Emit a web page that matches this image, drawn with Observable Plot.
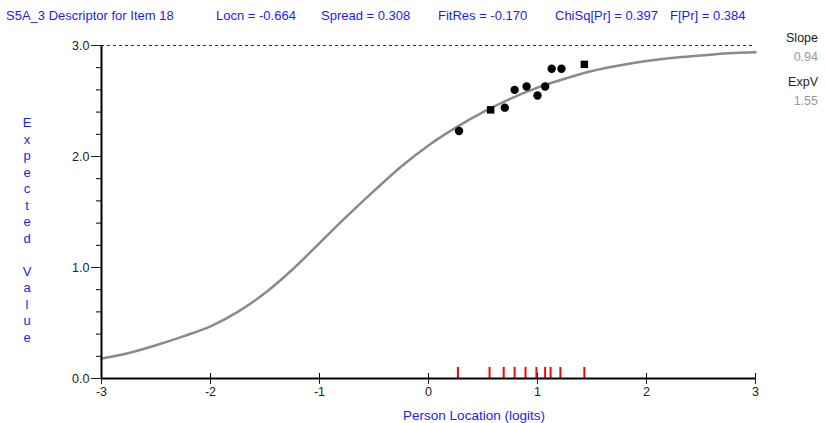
<!DOCTYPE html>
<html><head><meta charset="utf-8">
<script src="https://cdn.jsdelivr.net/npm/d3@7"></script>
<script src="https://cdn.jsdelivr.net/npm/@observablehq/plot@0.6"></script>
<style>
body{margin:0;background:#fff;}
#wrap{position:relative;width:825px;height:423px;font-family:"Liberation Sans",Arial,sans-serif;}
.t{position:absolute;white-space:nowrap;color:#1a1aff;font-size:13px;line-height:14px;}
.r{position:absolute;white-space:nowrap;font-size:12.5px;line-height:14px;text-align:right;width:60px;}
.yc{position:absolute;width:14px;text-align:center;color:#1a1aff;font-size:13px;line-height:14px;}
</style></head>
<body><div id="wrap"></div>
<script>
// Title pieces
const titleParts = ["S5A_3  Descriptor for Item 18","Locn = -0.664","Spread = 0.308","FitRes = -0.170","ChiSq[Pr] = 0.397","F[Pr] = 0.384"];
const sideLabels = ["Slope","0.94","ExpV","1.55"];
const yTitle = "Expected Value";
const xTitle = "Person Location (logits)";

// Expected value curve
const curveX = [-3,-2.75,-2.5,-2.25,-2,-1.75,-1.5,-1.25,-1,-0.75,-0.5,-0.25,0,0.25,0.5,0.75,1,1.25,1.5,1.75,2,2.25,2.5,2.75,3];
const curveY = [0.18,0.23,0.30,0.38,0.47,0.60,0.77,0.98,1.22,1.46,1.69,1.91,2.10,2.26,2.40,2.52,2.62,2.70,2.77,2.82,2.86,2.89,2.91,2.93,2.94];

// Observed class-interval means
const obsX = [0.28,0.57,0.70,0.79,0.90,1.00,1.07,1.13,1.22,1.43];
const obsY = [2.23,2.42,2.44,2.60,2.63,2.55,2.63,2.79,2.79,2.83];
const obsShape = ["circle","square","circle","circle","circle","circle","circle","circle","circle","square"];

// Person locations (red ticks)
const personLoc = [0.27,0.56,0.69,0.79,0.89,0.99,1.07,1.12,1.21,1.43];

const xTicks = [-3,-2,-1,0,1,2,3];
const yMajor = [0,1,2,3];
const yMinor = [0,0.2,0.4,0.6,0.8,1,1.2,1.4,1.6,1.8,2,2.2,2.4,2.6,2.8,3];
const maxScore = 3;

const curve = curveX.map((x,i)=>({x, y: curveY[i]}));
const obs = obsX.map((x,i)=>({x, y: obsY[i], s: obsShape[i]}));

const chart = Plot.plot({
  width: 825, height: 423,
  marginLeft: 101, marginRight: 70, marginTop: 45, marginBottom: 45,
  style: {fontFamily: '"Liberation Sans", Arial, sans-serif', fontSize: "12.5px", background: "#fff"},
  x: {domain: [-3, 3]},
  y: {domain: [0, 3]},
  marks: [
    Plot.ruleY([maxScore], {stroke: "#333", strokeDasharray: "3,3", strokeWidth: 1}),
    Plot.line(curve, {x: "x", y: "y", stroke: "#8a8a8a", strokeWidth: 2.5, curve: "monotone-x"}),
    Plot.ruleX(personLoc, {x: d => d, y1: 0, y2: 0.1, stroke: "#ff0000", strokeWidth: 2}),
    Plot.dot(obs, {x: "x", y: "y", symbol: "s", fill: "#000", r: 4.2}),
    Plot.axisY({ticks: yMinor, tickSize: 5, tickFormat: () => "", label: null, color: "#000"}),
    Plot.axisY({ticks: yMajor, tickSize: 10, tickPadding: 2, tickFormat: d3.format(".1f"), label: null, color: "#222"}),
    Plot.axisX({ticks: xTicks, tickSize: 6, tickPadding: 3, tickFormat: d => String(d), label: null, color: "#222"}),
    Plot.tickX(xTicks, {x: d => d, stroke: "#000", insetTop: 328, strokeWidth: 1}),
    Plot.ruleY([0], {stroke: "#000", strokeWidth: 2}),
    Plot.ruleX([-3], {stroke: "#000", strokeWidth: 2})
  ]
});
const wrap = document.getElementById("wrap");
wrap.appendChild(chart);

const titleX = [6,216,321,438,555,670];
titleParts.forEach((t,i)=>{
  const d = document.createElement("div");
  d.className = "t"; d.textContent = t;
  d.style.left = titleX[i] + "px"; d.style.top = "9px";
  wrap.appendChild(d);
});
const sideTop = [31,50,75,94];
const sideColor = ["#222","#999","#222","#999"];
sideLabels.forEach((t,i)=>{
  const d = document.createElement("div");
  d.className = "r"; d.textContent = t;
  d.style.left = "758px"; d.style.top = sideTop[i] + "px"; d.style.color = sideColor[i];
  wrap.appendChild(d);
});
Array.from(yTitle).forEach((c,i)=>{
  if (c === " ") return;
  const d = document.createElement("div");
  d.className = "yc"; d.textContent = c;
  d.style.left = "20px"; d.style.top = (123 + i*16.5 - 7) + "px";
  wrap.appendChild(d);
});
const xl = document.createElement("div");
xl.className = "t"; xl.textContent = xTitle;
xl.style.left = "474px"; xl.style.top = "409px"; xl.style.transform = "translateX(-50%)";
xl.style.fontSize = "13.5px";
wrap.appendChild(xl);
</script></body></html>
